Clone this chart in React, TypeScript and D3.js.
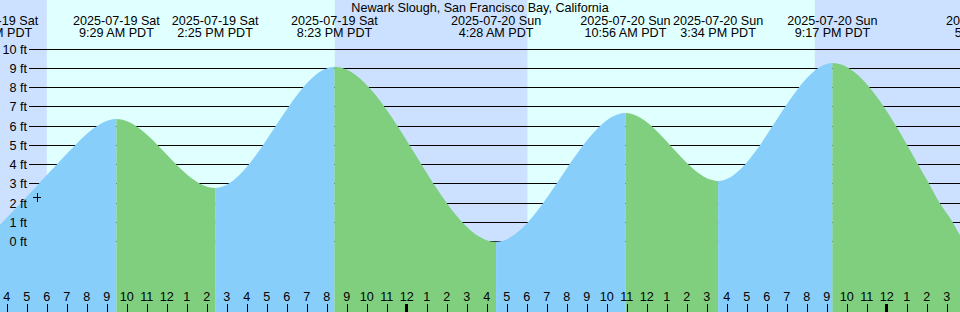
import { useMemo } from "react";
import * as d3 from "d3";

// tide extremes (PDT wall time, stored as if UTC)
const EXTREME_TIMES = [
  "2025-07-19T03:24",
  "2025-07-19T09:29",
  "2025-07-19T14:25",
  "2025-07-19T20:23",
  "2025-07-20T04:28",
  "2025-07-20T10:56",
  "2025-07-20T15:34",
  "2025-07-20T21:17",
  "2025-07-21T05:16",
];
const EXTREME_HEIGHTS = [0.6, 6.37, 2.79, 9.09, 0.0, 6.68, 3.16, 9.28, -0.7];
const EXTREME_DATES = [
  "2025-07-19 Sat",
  "2025-07-19 Sat",
  "2025-07-19 Sat",
  "2025-07-19 Sat",
  "2025-07-20 Sun",
  "2025-07-20 Sun",
  "2025-07-20 Sun",
  "2025-07-20 Sun",
  "2025-07-21 Mon",
];
const EXTREME_CLOCK = [
  "3:24 AM PDT",
  "9:29 AM PDT",
  "2:25 PM PDT",
  "8:23 PM PDT",
  "4:28 AM PDT",
  "10:56 AM PDT",
  "3:34 PM PDT",
  "9:17 PM PDT",
  "5:16 AM PDT",
];

// extra readings at the two edges of the window
const EXTRA_TIMES = [
  "2025-07-19T05:39",
  "2025-07-19T06:27",
  "2025-07-21T02:01",
  "2025-07-21T02:34",
  "2025-07-21T03:19",
  "2025-07-21T03:40",
];
const EXTRA_HEIGHTS = [3.07, 3.96, 3.2, 2.16, 0.98, 0.35];

const NIGHT_STARTS = ["2025-07-19T00:00", "2025-07-19T20:24", "2025-07-20T20:24"];
const NIGHT_ENDS = ["2025-07-19T06:00", "2025-07-20T06:02", "2025-07-21T06:03"];

const FT_TICKS = [0, 1, 2, 3, 4, 5, 6, 7, 8, 9, 10];

const MARKER_TIME = "2025-07-19T05:31";
const MARKER_HEIGHT = 2.32;

const TITLE = "Newark Slough, San Francisco Bay, California";
const VIEW_START = "2025-07-19T03:39:40";
const VIEW_END = "2025-07-21T03:39:40";

const W = 960;
const H = 312;
const FONT = "'Liberation Sans', Arial, sans-serif";
const DAY_BG = "#e0ffff";
const NIGHT_BG = "#cce0ff";
const FLOOD = "#87cefa";
const EBB = "#7fcf7f";

const parse = (s: string) => d3.isoParse(s.length === 16 ? s + ":00Z" : s + "Z") as Date;

export default function App() {
  const x = d3.scaleUtc().domain([parse(VIEW_START), parse(VIEW_END)]).range([0, W]);
  const y = d3.scaleLinear().domain([0, 10]).range([241.8, 49.1]);

  const points = useMemo(() => {
    const pts = EXTREME_TIMES.map((t, i) => ({ date: parse(t), h: EXTREME_HEIGHTS[i] }));
    EXTRA_TIMES.forEach((t, i) => pts.push({ date: parse(t), h: EXTRA_HEIGHTS[i] }));
    return pts.sort((a, b) => +a.date - +b.date);
  }, []);

  const area = d3
    .area<{ date: Date; h: number }>()
    .x((d) => x(d.date))
    .y0(H)
    .y1((d) => y(d.h))
    .curve(d3.curveMonotoneX);
  const areaPath = area(points) || "";

  const hours = x.ticks(d3.utcHour.every(1)!);
  const hourFmt = d3.utcFormat("%-I");
  const mx = Math.round(x(parse(MARKER_TIME)));
  const my = Math.floor(y(MARKER_HEIGHT));

  return (
    <svg
      width={W}
      height={H}
      style={{ position: "absolute", left: 0, top: 0, display: "block" }}
      fontFamily={FONT}
      fontSize={12.6}
    >
      <defs>
        {EXTREME_TIMES.slice(0, -1).map((t, i) => (
          <clipPath id={`seg${i}`} key={t}>
            <rect
              x={x(parse(t))}
              y={0}
              width={x(parse(EXTREME_TIMES[i + 1])) - x(parse(t))}
              height={H}
            />
          </clipPath>
        ))}
      </defs>

      <rect x={0} y={0} width={W} height={H} fill={DAY_BG} />
      {NIGHT_STARTS.map((s, i) => (
        <rect
          key={s}
          x={Math.max(0, x(parse(s)))}
          y={0}
          width={Math.min(W, x(parse(NIGHT_ENDS[i]))) - Math.max(0, x(parse(s)))}
          height={H}
          fill={NIGHT_BG}
        />
      ))}

      {FT_TICKS.map((f) => {
        const yy = Math.floor(y(f)) + 0.5;
        return <line key={f} x1={29} x2={W} y1={yy} y2={yy} stroke="#000" strokeWidth={1} />;
      })}

      {EXTREME_TIMES.slice(0, -1).map((t, i) => (
        <path
          key={t}
          d={areaPath}
          clipPath={`url(#seg${i})`}
          fill={EXTREME_HEIGHTS[i + 1] > EXTREME_HEIGHTS[i] ? FLOOD : EBB}
        />
      ))}

      {FT_TICKS.map((f) => (
        <text key={f} x={27} y={Math.floor(y(f)) + 5} textAnchor="end">
          {f} ft
        </text>
      ))}

      {hours.map((d) => {
        const midnight = d.getUTCHours() === 0;
        const xx = midnight ? Math.round(x(d)) - 0.5 : Math.round(x(d)) + 0.5;
        return (
          <g key={+d}>
            <line x1={xx} x2={xx} y1={304} y2={H} stroke="#000" strokeWidth={midnight ? 3 : 1} />
            <text x={x(d)} y={301} textAnchor="middle">
              {hourFmt(d)}
            </text>
          </g>
        );
      })}

      <text x={W / 2} y={12} textAnchor="middle">
        {TITLE}
      </text>
      {EXTREME_TIMES.map((t, i) => (
        <text key={t} x={x(parse(t))} textAnchor="middle">
          <tspan x={x(parse(t))} y={24.5}>
            {EXTREME_DATES[i]}
          </tspan>
          <tspan x={x(parse(t))} y={36.5}>
            {EXTREME_CLOCK[i]}
          </tspan>
        </text>
      ))}

      <g stroke="#000" strokeWidth={1}>
        <line x1={mx - 4} x2={mx + 4} y1={my + 0.5} y2={my + 0.5} />
        <line x1={mx + 0.5} x2={mx + 0.5} y1={my - 4} y2={my + 5} />
      </g>
    </svg>
  );
}
